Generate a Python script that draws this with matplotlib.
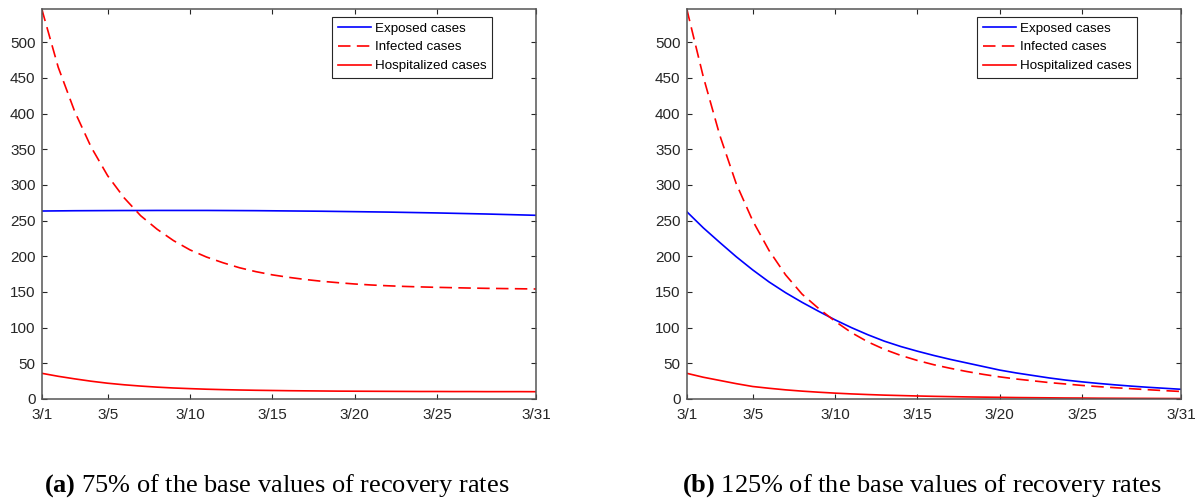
import matplotlib.pyplot as plt

# Daily values for March 1 to March 31
days = list(range(1, 32))
tick_days = [1, 5, 10, 15, 20, 25, 31]
tick_labels = ["3/1", "3/5", "3/10", "3/15", "3/20", "3/25", "3/31"]
y_ticks = list(range(0, 501, 50))

# (a) 75% of the base recovery rates
low_exposed = [263.5, 263.7, 263.9, 264.0, 264.1, 264.2, 264.2, 264.3, 264.3, 264.3,
               264.3, 264.2, 264.1, 264.0, 263.8, 263.6, 263.4, 263.2, 262.9, 262.6,
               262.3, 262.0, 261.6, 261.2, 260.8, 260.3, 259.8, 259.3, 258.7, 258.1,
               257.5]
low_infected = [546.7, 465.0, 403.0, 353.0, 313.0, 282.0, 257.0, 238.0, 222.0, 209.0,
                199.0, 191.0, 184.0, 178.5, 174.0, 170.5, 167.5, 165.0, 163.0, 161.2,
                159.8, 158.7, 157.8, 157.1, 156.5, 156.0, 155.5, 155.1, 154.8, 154.5,
                154.2]
low_hospitalized = [36.0, 31.8, 28.2, 24.9, 22.1, 19.9, 18.1, 16.6, 15.4, 14.5,
                    13.7, 13.1, 12.6, 12.2, 11.9, 11.6, 11.4, 11.2, 11.0, 10.9,
                    10.8, 10.7, 10.6, 10.5, 10.5, 10.4, 10.4, 10.3, 10.3, 10.3,
                    10.2]

# (b) 125% of the base recovery rates
high_exposed = [262.6, 240.0, 219.5, 199.5, 181.0, 164.0, 149.0, 135.5, 123.0, 111.0,
                100.0, 90.0, 81.0, 73.5, 67.0, 61.0, 55.5, 50.5, 45.5, 40.5,
                36.5, 33.0, 29.5, 26.5, 24.0, 21.8, 19.8, 18.0, 16.4, 15.0,
                13.6]
high_infected = [546.7, 452.0, 370.0, 302.0, 250.0, 208.0, 174.0, 147.0, 127.0, 109.0,
                 93.0, 80.0, 69.5, 61.0, 54.0, 48.0, 43.0, 38.5, 34.5, 31.0,
                 28.0, 25.5, 23.0, 21.0, 19.0, 17.3, 15.8, 14.4, 13.0, 11.7,
                 10.5]
high_hospitalized = [36.0, 30.5, 26.0, 21.5, 17.5, 15.0, 12.8, 11.0, 9.5, 8.2,
                     7.1, 6.2, 5.4, 4.8, 4.2, 3.7, 3.3, 2.9, 2.6, 2.3,
                     2.0, 1.8, 1.6, 1.4, 1.3, 1.1, 1.0, 0.9, 0.8, 0.7,
                     0.6]

captions = [r"$\mathbf{(a)}$ 75% of the base values of recovery rates",
            r"$\mathbf{(b)}$ 125% of the base values of recovery rates"]

plt.rcParams["font.family"] = ["Liberation Sans", "DejaVu Sans"]
plt.rcParams["mathtext.fontset"] = "custom"
plt.rcParams["mathtext.rm"] = "Liberation Serif"
plt.rcParams["mathtext.bf"] = "Liberation Serif:bold"

AXIS_COLOR = "#262626"


def draw_panel(ax, exposed, infected, hospitalized):
    ax.plot(days, exposed, color="#0000ff", lw=1.2, label="Exposed cases")
    ax.plot(days, infected, color="#ff0000", lw=1.2, linestyle=(0, (7.5, 3.8)),
            label="Infected cases")
    ax.plot(days, hospitalized, color="#ff0000", lw=1.2, label="Hospitalized cases")

    ax.set_xlim(days[0], days[-1])
    ax.set_ylim(0, max(infected))
    ax.set_xticks(tick_days)
    ax.set_xticklabels(tick_labels)
    ax.set_yticks(y_ticks)

    for spine in ax.spines.values():
        spine.set_color("#555555")
        spine.set_linewidth(1.1)
    ax.tick_params(direction="in", length=3.6, width=0.8, color=AXIS_COLOR,
                   labelcolor=AXIS_COLOR, labelsize=11, pad=4.5,
                   top=True, right=True)
    ax.tick_params(axis="x", pad=6.5)

    leg = ax.legend(loc="upper right", bbox_to_anchor=(0.911, 0.98),
                    borderaxespad=0, fancybox=False, framealpha=1,
                    edgecolor=AXIS_COLOR, fontsize=9.6, handlelength=2.45,
                    handletextpad=0.3, labelspacing=0.48, borderpad=0.42)
    leg.get_frame().set_linewidth(0.8)


fig = plt.figure(figsize=(12, 5.03), dpi=100)
ax_a = fig.add_axes([0.0348, 0.2068, 0.4118, 0.7753])
ax_b = fig.add_axes([0.5723, 0.2068, 0.4118, 0.7753])

draw_panel(ax_a, low_exposed, low_infected, low_hospitalized)
draw_panel(ax_b, high_exposed, high_infected, high_hospitalized)

# Sub-figure captions under each panel
fig.text(0.231, 0.022, captions[0], ha="center", va="baseline",
         family="Liberation Serif", fontsize=19, color="black")
fig.text(0.768, 0.022, captions[1], ha="center", va="baseline",
         family="Liberation Serif", fontsize=19, color="black")

fig.savefig("out.png", dpi=100, facecolor="white")
plt.close(fig)
